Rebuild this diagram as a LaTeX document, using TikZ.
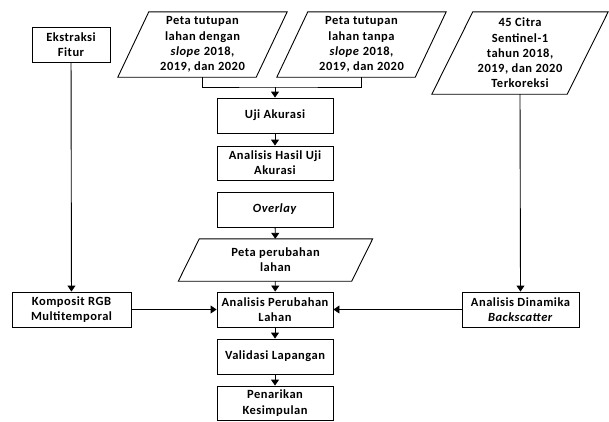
\documentclass[tikz,border=0pt]{standalone}
\usepackage{fontspec}
\setmainfont{Carlito}[LetterSpace=4]
\usetikzlibrary{arrows.meta}
\begin{document}
\begin{tikzpicture}[x=1pt,y=-1pt,
  every node/.style={font=\bfseries\fontsize{12.5}{15.2}\selectfont, align=center, inner sep=0pt},
  box/.style={draw, line width=0.9pt, minimum width=116pt, minimum height=35pt},
  para/.style={draw=none, minimum width=#1},
  line/.style={line width=0.9pt},
  arr/.style={line width=0.9pt, -{Triangle[length=6pt,width=8pt]}}]
\useasboundingbox (0,0) rectangle (609,421);
% rectangles
\node[box, minimum width=78pt] (ek) at (71,44.5) {Ekstraksi\\Fitur};
\node[box] (uji) at (275,115.5) {Uji Akurasi};
\node[box, minimum height=34pt] (hasil) at (275,163) {Analisis Hasil Uji\\Akurasi};
\node[box] (ov) at (275,209.5) {\textit{Overlay}};
\node[box] (ap) at (275,309.5) {Analisis Perubahan\\Lahan};
\node[box] (val) at (275,356.5) {Validasi Lapangan};
\node[box, minimum height=34pt] (pen) at (275,403) {Penarikan\\Kesimpulan};
\node[box, minimum width=119pt] (kom) at (71.5,309.5) {Komposit RGB\\Multitemporal};
\node[box, minimum width=117pt] (din) at (520.5,309.5) {Analisis Dinamika\\\textit{Backscatter}};
% parallelograms
\node[para=169pt, minimum height=65pt] (p1) at (202.5,44.5) {Peta tutupan\\lahan dengan\\\textit{slope} 2018,\\2019, dan 2020};
\node[para=169pt, minimum height=65pt] (p2) at (361.5,44.5) {Peta tutupan\\lahan tanpa\\\textit{slope} 2018,\\2019, dan 2020};
\node[para=176pt, minimum height=82pt] (p3) at (520,53) {45 Citra\\Sentinel-1\\tahun 2018,\\2019, dan 2020\\Terkoreksi};
\node[para=194pt, minimum height=42pt] (p4) at (275.5,260) {Peta perubahan\\lahan};
\draw[line] ([xshift=31pt]p1.north west) -- (p1.north east) -- ([xshift=-31pt]p1.south east) -- (p1.south west) -- cycle;
\draw[line] ([xshift=31pt]p2.north west) -- (p2.north east) -- ([xshift=-31pt]p2.south east) -- (p2.south west) -- cycle;
\draw[line] ([xshift=41pt]p3.north west) -- (p3.north east) -- ([xshift=-41pt]p3.south east) -- (p3.south west) -- cycle;
\draw[line] ([xshift=21pt]p4.north west) -- (p4.north east) -- ([xshift=-21pt]p4.south east) -- (p4.south west) -- cycle;
% connectors
\coordinate (j) at (275,87);
\draw[line] (p1.south) |- (j) -| (p2.south);
\draw[arr] (j) -- (uji);
\draw[arr] (uji) -- (hasil);
\draw[arr] (ov) -- (p4);
\draw[arr] (p4) -- (ap);
\draw[arr] (ap) -- (val);
\draw[arr] (val) -- (pen);
\draw[arr] (ek) -- (kom);
\draw[arr] (kom) -- (ap);
\draw[arr] (p3.south) -- (din.north);
\draw[arr] (din) -- (ap);
\end{tikzpicture}
\end{document}
